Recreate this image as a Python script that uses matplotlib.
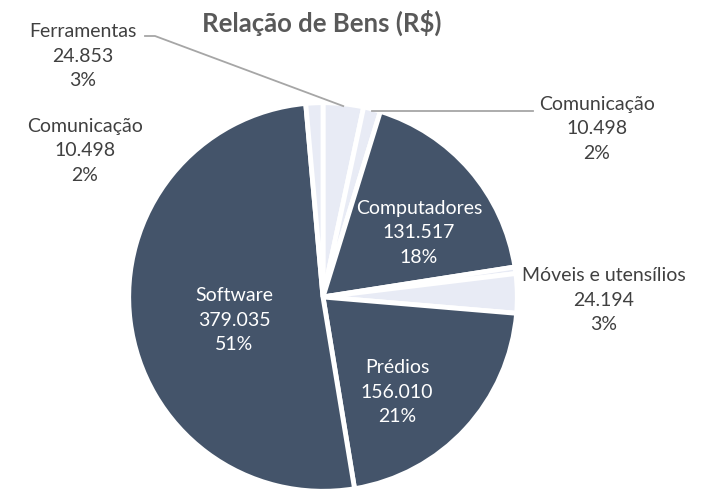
import numpy as np
import matplotlib.pyplot as plt

plt.rcParams['font.family'] = ['Lato', 'DejaVu Sans']

# dados do gráfico (sentido horário a partir do topo)
categorias = ['Ferramentas', 'Comunicação', 'Computadores', '', 'Móveis e utensílios',
              'Prédios', 'Software', 'Comunicação']
valores = [24853, 10498, 131517, 4000, 24194, 156010, 379035, 10498]
percentuais = ['3%', '2%', '18%', '', '3%', '21%', '51%', '2%']

escuro = '#44546A'
claro = '#E8EBF5'
cores = [claro, claro, escuro, claro, claro, escuro, escuro, claro]

# posicoes dos rotulos em pixels (x, y a partir do topo)
pos_rotulos = [(83, 56), (597, 129), (419, 233), None, (604, 300),
               (397, 392), (234, 320), (85, 151)]

W, H = 702, 492
cx, cy, R = 323, 297, 192


def px2data(x, y):
    return (x - cx) / R, (cy - y) / R


fig = plt.figure(figsize=(W / 100, H / 100), dpi=100)
ax = fig.add_axes([0, 0, 1, 1])

wedges, _ = ax.pie(valores, colors=cores, startangle=90, counterclock=False,
                   radius=1.012, wedgeprops=dict(edgecolor='white', linewidth=3.5))

ax.set_xlim(-cx / R, (W - cx) / R)
ax.set_ylim(-(H - cy) / R, cy / R)
ax.set_aspect('equal')
ax.axis('off')

for i, (nome, val, pct) in enumerate(zip(categorias, valores, percentuais)):
    if pos_rotulos[i] is None:
        continue
    texto = nome + '\n' + f'{val:,}'.replace(',', '.') + '\n' + pct
    cor = 'white' if cores[i] == escuro else '#404040'
    x, y = px2data(*pos_rotulos[i])
    ax.text(x, y, texto, ha='center', va='center', fontsize=14,
            color=cor, linespacing=1.55)


def ponto_borda(w):
    ang = np.deg2rad((w.theta1 + w.theta2) / 2)
    return np.cos(ang), np.sin(ang)


# linhas de chamada
ex, ey = ponto_borda(wedges[0])
x1, y1 = px2data(155, 36)
x2, y2 = px2data(145, 36)
ax.plot([ex, x1, x2], [ey, y1, y2], color='#A6A6A6', lw=1.3)

ex, ey = ponto_borda(wedges[1])
x3, _ = px2data(533, 0)
ax.plot([ex, x3], [ey, ey], color='#A6A6A6', lw=1.3)

fig.text(322 / W, 1 - 23 / H, 'Relação de Bens (R$)', ha='center', va='center',
         fontsize=18.5, fontweight='bold', color='#595959')

fig.savefig('out.png', dpi=100)
